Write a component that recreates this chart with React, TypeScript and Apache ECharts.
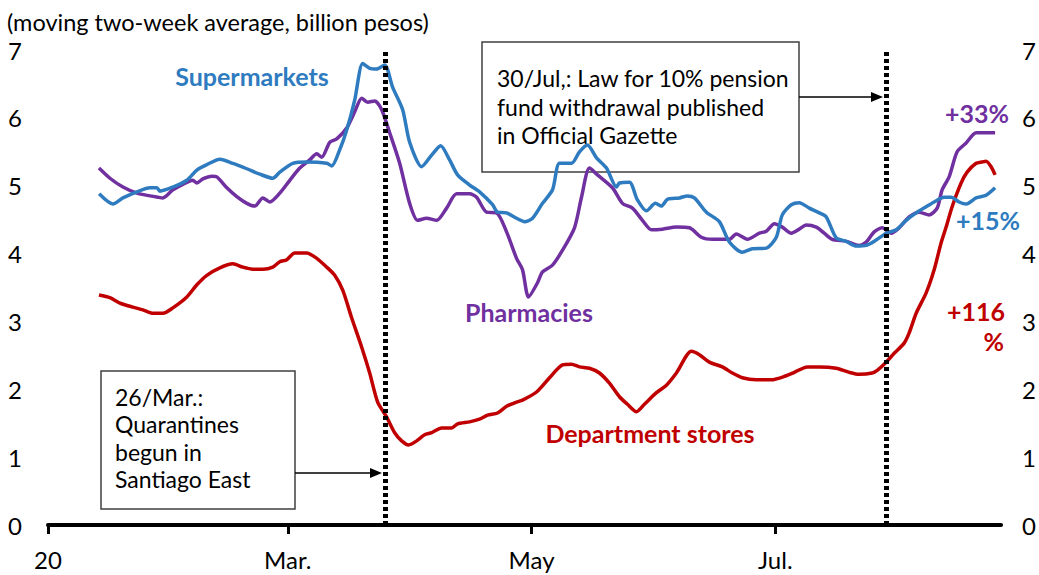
import React, { useEffect, useRef } from 'react';
import * as echarts from 'echarts';

// x values are days counted from 1 January 2020 (day 0)
const xTickDays = [0, 60, 121, 182];
const xTickLabels = ['20', 'Mar.', 'May', 'Jul.'];
const eventDays = [84.5, 209.75];

const supermarkets: [number, number][] = [
  [12.8, 4.88], [16.25, 4.73], [18.75, 4.82], [22.25, 4.91], [25.5, 4.97], [27.25, 4.97], [28, 4.92],
  [31.25, 4.98], [34.75, 5.08], [37.25, 5.23], [39.75, 5.31], [43, 5.39], [46.25, 5.33], [49.75, 5.25],
  [53, 5.17], [56.25, 5.11], [58, 5.2], [61.25, 5.33], [64.75, 5.35], [69.75, 5.33], [71, 5.29],
  [73, 5.53], [74.75, 5.82], [76.75, 6.26], [78.75, 6.8], [80.5, 6.73], [82.25, 6.72], [84.25, 6.78],
  [86.25, 6.45], [88.75, 6.12], [90.5, 5.64], [93.5, 5.28], [96, 5.45], [98.25, 5.59], [100.5, 5.38],
  [102.5, 5.16], [105.5, 5.01], [108, 4.91], [111.25, 4.72], [112.5, 4.61], [114.75, 4.6], [117.25, 4.52],
  [119.25, 4.47], [121.25, 4.52], [123.75, 4.74], [126.25, 4.94], [128, 5.33], [131, 5.33], [133, 5.5],
  [135, 5.6], [137.25, 5.41], [139.75, 5.26], [142.25, 4.98], [143, 5.04], [145.5, 5.05], [147.5, 4.79],
  [149.75, 4.63], [152, 4.74], [153.5, 4.7], [155, 4.8], [158, 4.82], [160, 4.85], [161.75, 4.82],
  [164.75, 4.61], [168, 4.47], [170.5, 4.17], [173.75, 4.02], [176.25, 4.07], [179.75, 4.08], [182.25, 4.24],
  [183.75, 4.57], [186, 4.72], [188, 4.75], [190.5, 4.67], [193, 4.6], [194.75, 4.54], [197.25, 4.23],
  [199.75, 4.18], [202.25, 4.11], [204.75, 4.12], [207.25, 4.2], [209.75, 4.3], [212.25, 4.35], [214.75, 4.49],
  [217.25, 4.6], [219.75, 4.69], [221.75, 4.76], [224.25, 4.83], [226, 4.83], [228, 4.76], [229.75, 4.73],
  [232.25, 4.82], [234.75, 4.86], [237, 4.97],
];

const pharmacies: [number, number][] = [
  [12.75, 5.26], [15.5, 5.11], [18.75, 4.98], [22.25, 4.89], [25.5, 4.85], [27.5, 4.83], [28.75, 4.82],
  [31.25, 4.94], [33.75, 5.02], [36.25, 5.08], [37.25, 5.04], [38.75, 5.1], [41, 5.14], [42.25, 5.13],
  [44.75, 4.97], [47.25, 4.84], [49.75, 4.74], [51.75, 4.7], [53.75, 4.82], [55.5, 4.76], [58, 4.89],
  [60.5, 5.08], [63, 5.26], [65.5, 5.38], [67.25, 5.47], [68.5, 5.42], [70.5, 5.64], [72.25, 5.69],
  [74.75, 5.85], [76.75, 6.09], [78.5, 6.29], [80, 6.23], [81.75, 6.25], [83.5, 6.12], [85.5, 5.78],
  [88, 5.33], [90.5, 4.74], [92.5, 4.49], [94.75, 4.52], [97.25, 4.49], [99.75, 4.67], [102.25, 4.88],
  [105.5, 4.88], [107.25, 4.83], [109.75, 4.61], [112.25, 4.6], [114.75, 4.32], [117.25, 3.93], [118.75, 3.76],
  [120.25, 3.36], [122.5, 3.57], [123.75, 3.73], [126.25, 3.83], [128.75, 4.05], [131.75, 4.38], [133.5, 4.83],
  [135.5, 5.26], [137.5, 5.16], [141.25, 4.97], [143.75, 4.74], [146.25, 4.67], [148.75, 4.49], [151, 4.35],
  [153.75, 4.36], [157.25, 4.39], [160.5, 4.38], [163.5, 4.24], [166.25, 4.21], [170.5, 4.21], [172.25, 4.29],
  [175, 4.21], [178, 4.3], [179.75, 4.33], [181.75, 4.44], [183.75, 4.39], [186, 4.3], [188, 4.36],
  [189.75, 4.42], [192.25, 4.39], [194.25, 4.3], [196.25, 4.21], [199.75, 4.18], [203, 4.12], [204.75, 4.17],
  [206.75, 4.32], [208.75, 4.38], [211, 4.3], [213, 4.38], [215.5, 4.54], [218, 4.61], [220.5, 4.57],
  [222.5, 4.67], [223.75, 4.94], [225.5, 5.13], [227.5, 5.5], [229.75, 5.63], [232.25, 5.78], [234.75, 5.78],
  [237, 5.78],
];

const departmentStores: [number, number][] = [
  [12.75, 3.39], [15.5, 3.35], [18, 3.27], [21.25, 3.21], [23.75, 3.17], [26.25, 3.12], [28.75, 3.12],
  [31.25, 3.2], [34.75, 3.36], [37.25, 3.54], [39.75, 3.68], [43, 3.79], [46.25, 3.85], [48.75, 3.8],
  [51.25, 3.77], [53.75, 3.77], [56.25, 3.8], [58, 3.88], [59.75, 3.91], [61.75, 4.01], [64.75, 4.01],
  [67.25, 3.93], [69.75, 3.8], [71.75, 3.68], [73.75, 3.46], [76, 3.05], [78.5, 2.62], [80.5, 2.24],
  [82.5, 1.81], [84.75, 1.59], [86.75, 1.36], [88.5, 1.24], [90.25, 1.18], [92.25, 1.24], [94.25, 1.33],
  [96, 1.36], [98.5, 1.43], [101, 1.43], [102.5, 1.49], [105.5, 1.52], [108, 1.56], [110, 1.62],
  [112.5, 1.65], [114.75, 1.75], [117.25, 1.81], [118.75, 1.84], [122.25, 1.96], [125.5, 2.17], [128.75, 2.36],
  [131, 2.37], [133, 2.33], [135.5, 2.31], [138, 2.24], [140.5, 2.09], [143, 1.89], [145, 1.78],
  [147.25, 1.67], [149.25, 1.78], [152.25, 1.95], [154.75, 2.06], [157.25, 2.24], [161, 2.56], [163, 2.51],
  [165.5, 2.4], [168.75, 2.33], [171.25, 2.24], [173.75, 2.17], [177.25, 2.14], [181, 2.14], [184.75, 2.2],
  [186.75, 2.25], [190, 2.33], [193, 2.33], [197.25, 2.31], [200.5, 2.25], [203, 2.22], [206.25, 2.24],
  [207.5, 2.28], [209.75, 2.4], [211.75, 2.53], [214.25, 2.68], [215.5, 2.83], [217.25, 3.12], [219.75, 3.42],
  [221.75, 3.76], [223.5, 4.16], [224.75, 4.39], [226.25, 4.69], [228.5, 5.04], [230, 5.2], [232.25, 5.33],
  [233.75, 5.35], [234.75, 5.36], [236, 5.28], [237, 5.16],
];

const BLUE = '#2E7BBF';
const PURPLE = '#7030A0';
const RED = '#C00000';
const FONT = 'Lato';

export default function App() {
  const ref = useRef<HTMLDivElement>(null);

  useEffect(() => {
    if (!ref.current) return;
    const chart = echarts.init(ref.current, undefined, { renderer: 'svg' });

    const labelText = (text: string, x: number, y: number, color: string, align = 'center') => ({
      type: 'text',
      x,
      y,
      z: 10,
      style: {
        text,
        fontSize: 25,
        fontWeight: 'bold',
        fontFamily: FONT,
        fill: color,
        align,
        verticalAlign: 'middle',
      },
    });

    const option: any = {
      animation: false,
      backgroundColor: '#ffffff',
      textStyle: { fontFamily: FONT },
      grid: { left: 48, right: 37, top: 50, bottom: 50, containLabel: false },
      xAxis: {
        type: 'value',
        min: 0,
        max: 238.5,
        axisLine: { show: true, onZero: false, lineStyle: { color: '#000', width: 4 } },
        axisTick: { show: true, customValues: xTickDays, length: 9, lineStyle: { color: '#000', width: 3 } },
        axisLabel: {
          customValues: xTickDays,
          formatter: (v: number) => {
            const i = xTickDays.indexOf(Math.round(v));
            return i >= 0 ? xTickLabels[i] : '';
          },
          fontSize: 24,
          color: '#000',
          fontFamily: FONT,
          margin: 22,
        },
        splitLine: { show: false },
      },
      yAxis: [
        {
          type: 'value',
          min: 0,
          max: 7,
          interval: 1,
          position: 'left',
          axisLine: { show: false },
          axisTick: { show: false },
          splitLine: { show: false },
          axisLabel: { fontSize: 24, color: '#000', fontFamily: FONT, margin: 26 },
        },
        {
          type: 'value',
          min: 0,
          max: 7,
          interval: 1,
          position: 'right',
          axisLine: { show: false },
          axisTick: { show: false },
          splitLine: { show: false },
          axisLabel: { fontSize: 24, color: '#000', fontFamily: FONT, margin: 21 },
        },
      ],
      series: [
        {
          name: 'Department stores',
          type: 'line',
          data: departmentStores,
          showSymbol: false,
          smooth: 0.25,
          lineStyle: { color: RED, width: 3.5 },
          z: 3,
        },
        {
          name: 'Pharmacies',
          type: 'line',
          data: pharmacies,
          showSymbol: false,
          smooth: 0.25,
          lineStyle: { color: PURPLE, width: 3.5 },
          z: 3,
        },
        {
          name: 'Supermarkets',
          type: 'line',
          data: supermarkets,
          showSymbol: false,
          smooth: 0.25,
          lineStyle: { color: BLUE, width: 3.5 },
          z: 4,
          markLine: {
            silent: true,
            symbol: ['none', 'none'],
            label: { show: false },
            lineStyle: { color: '#000', width: 5, type: [4, 3] },
            data: eventDays.map((d) => ({ xAxis: d })),
          },
        },
      ],
      graphic: [
        {
          type: 'text',
          x: 7,
          y: 22,
          style: {
            text: '(moving two-week average, billion pesos)',
            fontSize: 23.5,
            fontFamily: FONT,
            fill: '#000',
            align: 'left',
            verticalAlign: 'middle',
          },
        },
        {
          type: 'rect',
          z: 0,
          shape: { x: 482, y: 42, width: 317, height: 130 },
          style: { fill: '#fff', stroke: '#404040', lineWidth: 1.5 },
        },
        {
          type: 'text',
          x: 497,
          y: 64,
          z: 1,
          style: {
            text: '30/Jul,: Law for 10% pension\nfund withdrawal published\nin Official Gazette',
            fontSize: 23,
            fontFamily: FONT,
            fill: '#000',
            align: 'left',
            verticalAlign: 'top',
            lineHeight: 28.5,
          },
        },
        {
          type: 'line',
          shape: { x1: 799, y1: 97, x2: 874, y2: 97 },
          style: { stroke: '#000', lineWidth: 1.5 },
        },
        {
          type: 'polygon',
          shape: { points: [[871, 92], [883, 97], [871, 102]] },
          style: { fill: '#000' },
        },
        {
          type: 'rect',
          z: 0,
          shape: { x: 101, y: 371, width: 194, height: 138 },
          style: { fill: '#fff', stroke: '#404040', lineWidth: 1.5 },
        },
        {
          type: 'text',
          x: 115,
          y: 383.5,
          z: 1,
          style: {
            text: '26/Mar.:\nQuarantines\nbegun in\nSantiago East',
            fontSize: 23,
            fontFamily: FONT,
            fill: '#000',
            align: 'left',
            verticalAlign: 'top',
            lineHeight: 27.2,
          },
        },
        {
          type: 'line',
          shape: { x1: 295, y1: 473, x2: 372, y2: 473 },
          style: { stroke: '#000', lineWidth: 1.5 },
        },
        {
          type: 'polygon',
          shape: { points: [[370, 468], [382, 473], [370, 478]] },
          style: { fill: '#000' },
        },
        labelText('Supermarkets', 252, 76, BLUE),
        labelText('Pharmacies', 529, 312, PURPLE),
        labelText('Department stores', 650, 433, RED),
        labelText('+33%', 977, 113, PURPLE),
        labelText('+15%', 988, 220, BLUE),
        labelText('+116', 1005, 311, RED, 'right'),
        labelText('%', 1004, 341, RED, 'right'),
      ],
    };

    chart.setOption(option);
    return () => chart.dispose();
  }, []);

  return (
    <div
      ref={ref}
      style={{ position: 'fixed', left: 0, top: 0, width: 1039, height: 575, background: '#fff' }}
    />
  );
}
